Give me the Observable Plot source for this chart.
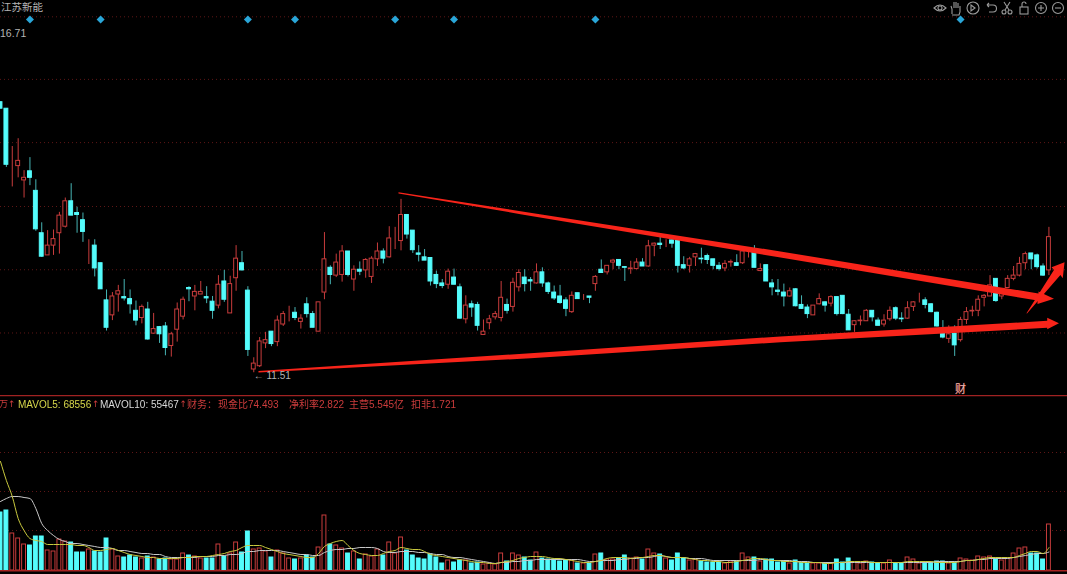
<!DOCTYPE html>
<html><head><meta charset="utf-8">
<script src="https://cdn.jsdelivr.net/npm/d3@7"></script>
<script src="https://cdn.jsdelivr.net/npm/@observablehq/plot@0.6"></script>
<style>
html,body{margin:0;padding:0;background:#000;overflow:hidden}
#wrap{position:relative;width:1067px;height:574px;background:#000;font-family:"Liberation Sans","Noto Sans CJK SC",sans-serif;font-size:10px;filter:blur(0.3px)}
#price,#vol{position:absolute;left:0}
#price{top:0}#vol{top:395px}
#wrap svg{display:block;background:transparent}
.t{position:absolute;white-space:pre;line-height:13px}
.r{color:#cc3c3c}
.a{font-family:"DejaVu Sans";font-size:9px}
#icons{position:absolute;left:930px;top:0}
</style></head><body>
<div id="wrap">
<div id="price"></div><div id="vol"></div>
<span class="t" style="left:1px;top:1px;color:#b4b4b4;font-size:10.5px">江苏新能</span>
<span class="t" style="left:0;top:27px;color:#b4b4b4;font-size:10.5px">16.71</span>
<span class="t r" style="left:-1px;top:398px;font-size:9px">万</span>
<span class="t r a" style="left:8px;top:398px">↑</span>
<span class="t" style="left:18px;top:398px;color:#d6d64a">MAVOL5: 68556</span>
<span class="t r a" style="left:92px;top:398px">↑</span>
<span class="t" style="left:100px;top:398px;color:#d8d8d8">MAVOL10: 55467</span>
<span class="t r a" style="left:179.5px;top:398px">↑</span>
<span class="t r" style="left:187px;top:398px">财务：</span>
<span class="t r" style="left:218px;top:398px">现金比74.493</span>
<span class="t r" style="left:289px;top:398px">净利率2.822</span>
<span class="t r" style="left:349px;top:398px">主营5.545亿</span>
<span class="t r" style="left:411px;top:398px">扣非1.721</span>
<svg id="icons" width="137" height="16" fill="none" stroke="#9a9a9a" stroke-width="1.1">
<path d="M4 8q6-6 12 0q-6 6-12 0z"/><circle cx="10" cy="8" r="2"/>
<path d="M22 14v-5l-1-3m3 2v-6m2 6v-6m2 6v-5m2 7v-4m-8 9h7l1-3v-3"/>
<circle cx="43" cy="8" r="6"/><path d="M41 5l4 3l-4 3z"/>
<path d="M57 5h6a3 3 0 0 1 0 7h-4m-2-7l2-2m-2 2l2 2"/>
<circle cx="74" cy="12" r="2"/><circle cx="80" cy="12" r="2"/><path d="M75 10l5-8m-1 8l-5-8"/>
<rect x="90" y="7" width="8" height="7"/><path d="M92 7v-3a2 2 0 0 1 4 0"/>
<circle cx="111" cy="8" r="5.5"/><path d="M108 8h6m-3-3v6"/>
<circle cx="128" cy="8" r="5.5"/><path d="M125 8h6"/>
</svg>
</div>
<script>
const opens=[15.66,15.56,14.69,14.68,14.46,14.60,14.30,13.65,13.31,13.46,13.65,13.75,14.14,13.96,13.85,13.43,13.46,13.19,12.62,12.39,12.71,12.67,12.64,12.46,12.35,12.48,12.11,12.21,12.22,11.92,12.17,12.37,12.81,12.68,12.71,12.67,12.60,12.54,12.91,12.42,12.96,13.19,12.77,11.56,11.61,11.96,12.14,11.98,12.25,12.43,12.43,12.29,12.56,12.41,12.14,12.74,13.12,13.00,13.01,13.37,12.94,13.09,13.08,12.98,13.25,13.37,13.28,13.52,13.53,13.93,13.69,13.34,13.28,13.27,13.01,12.88,12.86,12.97,12.82,12.33,12.56,12.55,12.09,12.27,12.36,12.35,12.55,12.52,12.82,12.97,12.93,12.88,13.05,12.88,12.74,12.68,12.62,12.44,12.73,12.64,12.68,12.87,13.09,13.05,13.20,13.24,13.13,13.10,13.10,13.20,13.14,13.46,13.49,13.51,13.54,13.54,13.16,13.15,13.28,13.26,13.30,13.25,13.15,13.11,13.20,13.19,13.19,13.38,13.36,13.07,13.16,12.88,12.77,12.74,12.68,12.79,12.55,12.51,12.39,12.56,12.59,12.57,12.67,12.69,12.40,12.24,12.30,12.30,12.46,12.31,12.25,12.33,12.50,12.34,12.34,12.52,12.60,12.62,12.56,12.43,12.12,12.03,12.11,12.01,12.32,12.45,12.46,12.66,12.68,12.95,12.68,12.81,12.95,13.00,13.19,13.34,13.31,13.14,13.08];
const closes=[15.56,14.70,14.69,14.76,14.50,14.50,13.71,13.29,13.46,13.56,13.92,14.14,13.92,13.93,13.67,13.43,13.11,12.79,12.20,12.68,12.76,12.65,12.56,12.31,12.52,12.02,12.18,12.10,11.89,12.10,12.48,12.63,12.79,12.75,12.75,12.65,12.46,12.86,12.63,12.87,13.26,13.08,11.86,11.65,11.99,12.01,11.95,12.31,12.41,12.43,12.35,12.34,12.41,12.20,12.59,13.25,13.01,13.20,13.37,13.01,13.09,13.06,13.24,13.26,13.37,13.26,13.57,13.52,13.93,13.63,13.39,13.32,13.23,12.91,12.87,12.84,13.06,12.86,12.34,12.54,12.51,12.23,12.14,12.33,12.41,12.66,12.46,12.89,13.04,12.87,12.91,13.05,12.88,12.75,12.65,12.58,12.49,12.69,12.64,12.64,12.66,12.98,13.04,13.15,13.23,13.15,13.12,13.11,13.20,13.14,13.45,13.49,13.47,13.51,13.49,13.15,13.11,13.25,13.33,13.25,13.24,13.15,13.10,13.18,13.21,13.15,13.37,13.39,13.12,13.10,12.91,12.82,12.75,12.68,12.76,12.53,12.49,12.41,12.54,12.64,12.54,12.67,12.41,12.41,12.16,12.30,12.31,12.46,12.36,12.23,12.31,12.46,12.34,12.33,12.50,12.59,12.60,12.55,12.44,12.22,12.05,12.10,11.93,12.32,12.44,12.46,12.63,12.69,12.85,12.61,12.72,12.95,13.00,13.18,13.33,13.25,13.13,13.00,13.59];
const highs=[15.66,15.56,14.98,15.10,14.61,14.81,14.47,13.81,13.69,13.70,13.97,14.19,14.41,14.05,13.96,13.55,13.55,13.19,12.78,12.74,12.85,12.94,12.78,12.61,12.55,12.59,12.42,12.22,12.28,12.13,12.58,12.67,12.83,12.85,12.91,12.83,12.68,13.00,13.08,12.99,13.46,13.37,12.83,11.74,12.05,12.13,12.14,12.38,12.45,12.53,12.51,12.40,12.66,12.45,12.59,13.66,13.15,13.33,13.46,13.37,13.15,13.21,13.26,13.29,13.50,13.41,13.75,13.74,14.17,13.93,13.69,13.46,13.40,13.27,13.07,12.94,13.10,13.10,12.87,12.69,12.61,12.59,12.32,12.39,12.45,12.91,12.64,12.96,13.09,13.09,12.97,13.18,13.12,12.90,12.84,12.85,12.66,12.75,12.73,12.71,12.68,13.00,13.24,13.15,13.25,13.24,13.14,13.22,13.26,13.26,13.54,13.50,13.60,13.55,13.55,13.55,13.29,13.28,13.34,13.42,13.33,13.25,13.20,13.23,13.24,13.32,13.39,13.40,13.46,13.18,13.16,12.94,12.94,12.87,12.81,12.80,12.69,12.55,12.54,12.72,12.60,12.69,12.67,12.69,12.48,12.31,12.38,12.48,12.46,12.35,12.40,12.52,12.52,12.43,12.60,12.60,12.73,12.66,12.57,12.44,12.31,12.23,12.23,12.36,12.51,12.53,12.69,12.71,13.00,12.95,12.77,13.00,13.14,13.28,13.36,13.34,13.33,13.18,13.74];
const lows=[15.56,14.66,14.36,14.50,14.19,14.38,13.68,13.28,13.31,13.31,13.33,13.73,13.92,13.65,13.51,13.17,12.98,12.79,12.15,12.31,12.44,12.61,12.41,12.23,12.26,12.01,12.10,11.96,11.77,11.75,11.98,12.32,12.60,12.46,12.71,12.57,12.33,12.49,12.59,12.42,12.76,13.07,11.76,11.51,11.59,11.88,11.91,11.91,12.22,12.29,12.31,12.18,12.35,12.20,12.14,12.63,12.86,12.97,12.90,12.98,12.76,13.00,12.96,12.88,13.14,13.18,13.27,13.40,13.38,13.56,13.34,13.21,13.23,12.84,12.80,12.80,12.79,12.86,12.33,12.26,12.36,12.15,12.09,12.17,12.32,12.29,12.41,12.44,12.75,12.75,12.76,12.87,12.82,12.71,12.62,12.56,12.37,12.42,12.64,12.62,12.57,12.76,13.04,13.01,13.09,13.09,12.91,13.02,13.09,13.14,13.13,13.29,13.40,13.43,13.42,13.04,13.09,13.04,13.14,13.18,13.17,13.09,13.07,13.06,13.13,13.14,13.17,13.27,13.12,13.06,12.91,12.69,12.69,12.52,12.67,12.52,12.48,12.34,12.39,12.55,12.44,12.52,12.38,12.40,12.16,12.13,12.23,12.30,12.29,12.23,12.21,12.30,12.31,12.28,12.33,12.45,12.58,12.49,12.43,12.21,12.03,11.96,11.76,11.98,12.25,12.37,12.37,12.52,12.68,12.59,12.63,12.81,12.92,12.98,13.09,13.09,13.10,12.99,13.00];
// volume, thousand lots
const volumes=[174,180,111,96,78,75,102,102,60,57,93,87,84,54,54,63,57,54,96,63,42,39,45,39,36,42,39,33,36,33,33,51,45,42,36,36,36,78,42,51,84,54,117,63,66,57,39,60,51,36,33,36,45,39,69,165,78,75,66,51,57,33,48,42,63,45,84,51,99,60,45,36,33,48,39,21,30,24,30,30,21,24,18,21,18,51,27,51,45,39,30,54,36,33,33,27,30,30,21,21,21,48,51,33,33,36,45,36,39,33,63,51,48,36,30,51,36,30,33,27,24,24,24,21,27,27,51,39,39,27,33,33,24,27,21,30,24,21,21,21,21,21,33,24,36,24,21,27,24,21,21,30,21,21,39,33,21,24,24,27,27,21,24,36,33,30,42,39,42,33,30,36,51,66,69,51,51,33,138];
const mavol5=[327,270,222,156,120,96,90,87,78,78,78,78,78,75,75,69,60,60,63,66,60,54,48,45,42,39,39,36,36,36,36,39,39,42,42,42,45,48,51,57,60,69,75,75,75,69,63,57,51,48,45,42,39,39,51,72,81,87,90,75,60,51,48,45,45,51,57,60,69,66,63,63,57,48,45,42,39,36,33,30,27,24,24,21,21,24,27,30,36,39,42,42,42,39,36,36,33,30,27,24,24,27,30,36,39,39,39,36,39,39,42,45,45,42,39,39,39,36,33,30,30,27,27,24,24,27,30,33,36,36,33,30,30,27,27,27,24,24,24,24,21,21,24,24,27,27,27,27,24,24,24,24,24,24,27,27,27,27,27,24,24,24,24,27,30,30,33,36,39,39,39,39,39,45,51,57,57,51,68.556];
const mavol10=[207,216,222,222,219,216,186,141,120,105,93,87,81,81,78,75,72,69,69,66,60,60,57,54,51,51,48,48,42,39,39,39,39,39,42,42,42,45,45,48,48,51,57,57,60,60,60,60,57,54,51,48,48,45,45,54,60,63,63,66,66,69,69,69,66,57,54,54,57,57,57,54,54,51,48,48,42,39,39,36,33,30,27,24,21,24,24,27,27,30,30,33,33,33,33,33,33,33,33,30,27,27,30,30,30,33,33,36,36,39,39,42,45,42,39,39,39,36,36,36,33,30,30,30,30,30,30,30,30,33,33,30,30,30,30,27,27,27,24,24,24,24,24,24,24,24,24,24,24,24,24,24,24,24,24,24,24,24,24,27,27,27,27,27,30,30,33,33,36,36,36,36,39,42,45,48,51,51,55.467];
const priceGrid=[16.97,16.01,15.04,14.06,13.09,12.12];
const volGrid=[120,237,354];
const eventBars=[5,17,42,50,67,77,101,163];
const eventPrice=16.93;
const lowBar=43, lowLabel="← 11.51", lowLabelPrice=11.47;
const reportBar=163, reportPrice=11.25;
// hand-drawn trend arrows, as [bar, price]
const arrowUpper=[[67.57,14.278],[88.29,13.989],[132.43,13.37],[176.23,12.725],[176.23,12.756],[178.86,12.644],[176.06,12.564],[176.06,12.618],[132.43,13.278],[88.29,13.943],[67.57,14.259]];
const arrowLower=[[43.8,11.536],[89.98,11.81],[132.43,12.066],[177.71,12.307],[177.71,12.353],[179.71,12.27],[177.71,12.178],[177.71,12.199],[132.43,11.978],[89.98,11.733],[43.8,11.513]];
const arrowSteep=[[174.19,12.423],[178.85,13.085],[178.45,13.13],[180.65,13.206],[180.35,12.96],[179.95,13.01],[174.28,12.419]];

const RED="#c83c3c",CYAN="#54fcfc",WICK="#46b4b4",GRID="#5e1616",ARROW="#f8241a";
const barsDomain=[0,1067/5.89];
const candles=opens.map((o,i)=>({i,o,c:closes[i],h:highs[i],l:lows[i],v:volumes[i],up:closes[i]>=o}));
const up=candles.filter(d=>d.up),dn=candles.filter(d=>!d.up);
const hw=0.33;
const poly=(pts)=>Plot.line(pts,{x:d=>d[0],y:d=>d[1],fill:ARROW,stroke:"none",curve:"linear-closed"});

const price=Plot.plot({width:1067,height:395,margin:0,
  x:{domain:barsDomain,axis:null},y:{domain:[11.161,17.22],axis:null},
  style:{background:"transparent"},
  marks:[
    Plot.ruleY(priceGrid,{stroke:GRID,strokeDasharray:"1,3",strokeWidth:1}),
    Plot.ruleX(dn,{x:"i",y1:"l",y2:"h",stroke:WICK,strokeWidth:1}),
    Plot.ruleX(up,{x:"i",y1:"l",y2:"h",stroke:RED,strokeWidth:1}),
    Plot.rect(up,{x1:d=>d.i-hw,x2:d=>d.i+hw,y1:"o",y2:"c",fill:"#000",stroke:RED,strokeWidth:1}),
    Plot.rect(dn,{x1:d=>d.i-hw,x2:d=>d.i+hw,y1:"o",y2:"c",fill:CYAN,stroke:CYAN,strokeWidth:1}),
    poly(arrowUpper),poly(arrowLower),poly(arrowSteep),
    Plot.dot(eventBars,{x:d=>d,y:()=>eventPrice,symbol:"diamond2",r:3.6,fill:"#2aa6d8",stroke:"none"}),
    Plot.text([lowLabel],{x:()=>lowBar,y:()=>lowLabelPrice,text:d=>d,textAnchor:"start",fill:"#b4b4b4",fontSize:10,fontFamily:"Liberation Sans"}),
    Plot.text(["财"],{x:()=>reportBar,y:()=>reportPrice,text:d=>d,fill:"#e8b8b0",fontSize:11,fontFamily:"Noto Sans CJK SC",stroke:"#a02020",strokeWidth:0.4})
  ]});
document.getElementById("price").append(price);

const vol=Plot.plot({width:1067,height:179,margin:0,
  x:{domain:barsDomain,axis:null},y:{domain:[-12,525],axis:null},
  style:{background:"transparent"},
  marks:[
    Plot.ruleY(volGrid,{stroke:GRID,strokeDasharray:"1,3",strokeWidth:1}),
    Plot.ruleY([525],{stroke:"#a02222",strokeWidth:1.5}),
    Plot.rect(up,{x1:d=>d.i-hw,x2:d=>d.i+hw,y1:0,y2:"v",fill:"#000",stroke:RED,strokeWidth:1}),
    Plot.rect(dn,{x1:d=>d.i-hw,x2:d=>d.i+hw,y1:0,y2:"v",fill:CYAN,stroke:CYAN,strokeWidth:1}),
    Plot.ruleY([-1],{stroke:"#a82222",strokeWidth:1.5}),
    Plot.line(mavol10,{x:(d,i)=>i,y:d=>d,stroke:"#c8c8c8",strokeWidth:1,curve:"monotone-x"}),
    Plot.line(mavol5,{x:(d,i)=>i,y:d=>d,stroke:"#c9c93e",strokeWidth:1,curve:"monotone-x"})
  ]});
document.getElementById("vol").append(vol);
</script>
</body></html>
